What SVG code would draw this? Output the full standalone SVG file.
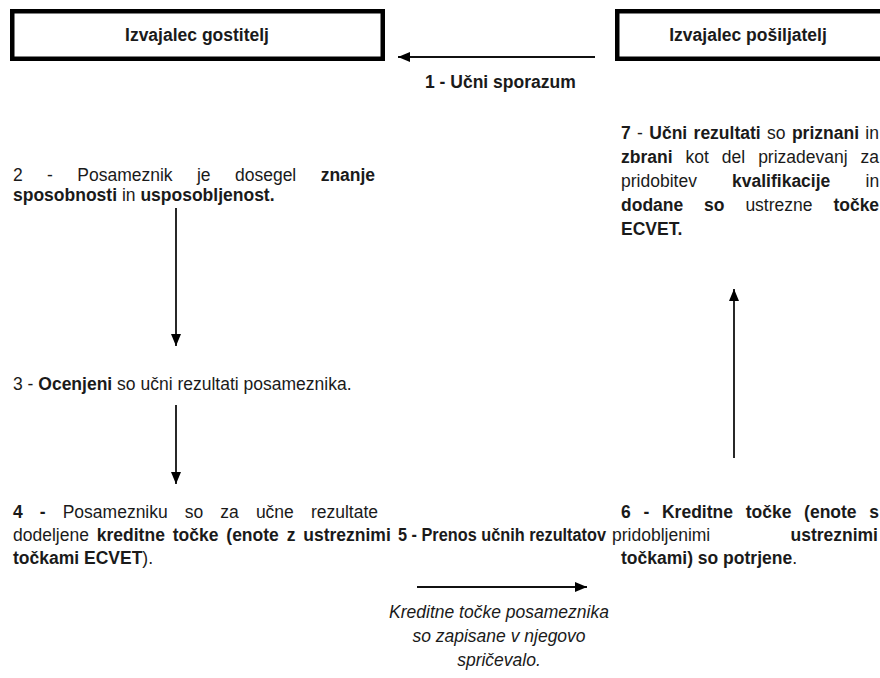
<svg xmlns="http://www.w3.org/2000/svg" width="880" height="678" viewBox="0 0 880 678">
  <defs>
    <style>
      text { font-family: "Liberation Sans", Arial, sans-serif; font-size: 17.5px; fill: #1a1a1a; }
      .b { font-weight: bold; }
      .i { font-style: italic; }
      .box { fill: #ffffff; stroke: #000000; stroke-width: 4.5; }
      .conn { stroke: #111111; stroke-width: 1.8; fill: none; marker-end: url(#arrow); }
    </style>
    <marker id="arrow" markerUnits="userSpaceOnUse" markerWidth="12" markerHeight="10" refX="12" refY="5" orient="auto">
      <path d="M0,0 L12,5 L0,10 Z" fill="#000000"/>
    </marker>
  </defs>
  <rect width="880" height="678" fill="#ffffff"/>

  <g id="box-gostitelj">
    <rect class="box" x="12.25" y="11.25" width="370.5" height="47.5"/>
    <text class="b" x="197" y="41" text-anchor="middle">Izvajalec gostitelj</text>
  </g>

  <g id="box-posiljatelj">
    <rect class="box" x="617.25" y="11.25" width="300" height="47.5"/>
    <text class="b" x="748" y="41" text-anchor="middle">Izvajalec pošiljatelj</text>
  </g>

  <g id="connectors">
    <line class="conn" x1="595" y1="57" x2="398" y2="57"/>
    <line class="conn" x1="176" y1="208" x2="176" y2="346"/>
    <line class="conn" x1="176" y1="405" x2="176" y2="484"/>
    <line class="conn" x1="734" y1="458" x2="734" y2="289"/>
    <line class="conn" x1="417" y1="587" x2="587" y2="587"/>
  </g>

  <g id="step1">
    <text class="b" x="425" y="88">1 - Učni sporazum</text>
  </g>

  <g id="step2">
    <text x="13" y="181" word-spacing="19.5"><tspan>2 - Posameznik je dosegel </tspan><tspan class="b">znanje</tspan></text>
    <text x="13" y="201"><tspan class="b">sposobnosti</tspan> in <tspan class="b">usposobljenost.</tspan></text>
  </g>

  <g id="step3">
    <text x="13" y="390">3 - <tspan class="b">Ocenjeni</tspan> so učni rezultati posameznika.</text>
  </g>

  <g id="step4">
    <text x="13" y="518" word-spacing="12.2"><tspan class="b">4 -</tspan><tspan> Posamezniku so za učne rezultate</tspan></text>
    <text x="13" y="541" word-spacing="3"><tspan>dodeljene </tspan><tspan class="b">kreditne točke (enote z ustreznimi</tspan></text>
    <text x="13" y="564"><tspan class="b">točkami ECVET</tspan>).</text>
  </g>

  <g id="step5">
    <text class="b" x="398" y="541" textLength="208" lengthAdjust="spacingAndGlyphs">5 - Prenos učnih rezultatov</text>
  </g>

  <g id="step5-note">
    <text class="i" x="499" y="618" text-anchor="middle">Kreditne točke posameznika</text>
    <text class="i" x="499" y="642" text-anchor="middle">so zapisane v njegovo</text>
    <text class="i" x="499" y="666" text-anchor="middle">spričevalo.</text>
  </g>

  <g id="step6">
    <text class="b" x="621" y="518" word-spacing="7.84">6 - Kreditne točke (enote s</text>
    <text x="612" y="541">pridobljenimi</text>
    <text class="b" x="878" y="541" text-anchor="end">ustreznimi</text>
    <text x="621" y="564"><tspan class="b">točkami) so potrjene</tspan>.</text>
  </g>

  <g id="step7">
    <text x="621" y="139" word-spacing="1.5"><tspan class="b">7</tspan> - <tspan class="b">Učni rezultati</tspan> so <tspan class="b">priznani</tspan> in</text>
    <text x="621" y="163" word-spacing="8.1"><tspan class="b">zbrani</tspan> kot del prizadevanj za</text>
    <text x="621" y="187" word-spacing="30.3">pridobitev <tspan class="b">kvalifikacije</tspan> in</text>
    <text x="621" y="211" word-spacing="16"><tspan class="b">dodane so</tspan> ustrezne <tspan class="b">točke</tspan></text>
    <text class="b" x="621" y="235">ECVET.</text>
  </g>
</svg>
